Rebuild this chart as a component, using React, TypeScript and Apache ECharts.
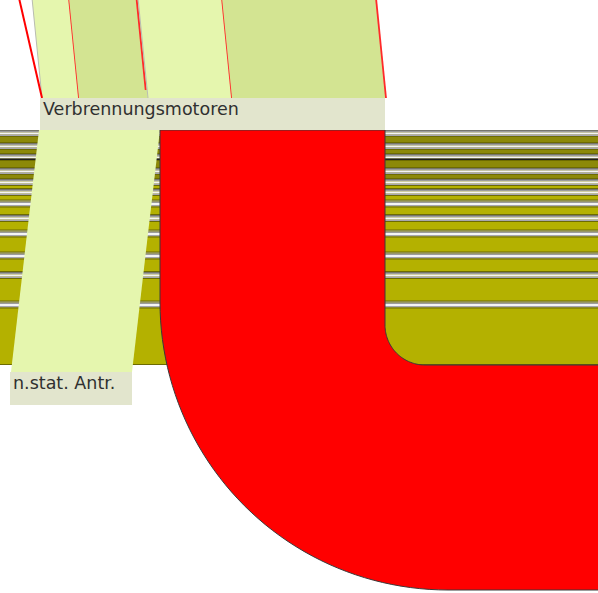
import { useEffect, useRef } from "react";
import * as echarts from "echarts";

// ---- data (flow magnitudes) ----
const nodeNames = ["Verbrennungsmotoren", "n.stat. Antr."];
const inflowValues = [37, 69, 84, 154];
const outflowNames = ["n.stat. Antr.", "Antrieb"];
const outflowValues = [121, 225];
const stripeValues = [13, 11, 14, 11, 10, 11.5, 14.5, 15.5, 22, 19.5, 29.5, 63.5];

// ---- layout constants ----
const W = 598;
const H = 593;
const NODE_X = 39;
const NODE_TOP = 98;
const NODE_BOTTOM = 130;
const INFLOW_X0 = 42;
const INFLOW_SLANT = -10;
const STRIPE_TOP = 130;
const TARGET_TOP = 372;
const TARGET_SHIFT = -28;
const BEND_OUTER = 288;
const BEND_INNER = 40;

const LIGHT = "#e5f6ae";
const DARKLINK = "#d3e492";
const OLIVE = "#b4b100";
const OLIVE_DARK = "#8c8908";
const BOX = "#e2e5cd";
const RED = "#ff0000";

export default function App() {
  const ref = useRef<HTMLDivElement>(null);
  useEffect(() => {
    const chart = echarts.init(ref.current!, null, { renderer: "svg" });

    const stripeTops: number[] = [];
    let acc = STRIPE_TOP;
    stripeValues.forEach((v) => {
      stripeTops.push(acc);
      acc += v;
    });
    const stripeBottom = acc;

    const inflowStarts: number[] = [];
    let ix = INFLOW_X0;
    inflowValues.forEach((v) => {
      inflowStarts.push(ix);
      ix += v;
    });

    const outStarts: number[] = [];
    let ox = NODE_X;
    outflowValues.forEach((v) => {
      outStarts.push(ox);
      ox += v;
    });
    const nodeRight = ox;

    const stripeRender = (_p: any, api: any) => {
      const i = api.value(0) as number;
      const v = api.value(1) as number;
      const y0 = stripeTops[i];
      const y1 = y0 + v;
      const rect = (ya: number, yb: number, fill: string) => {
        const a = api.coord([0, ya]);
        const b = api.coord([W, yb]);
        return {
          type: "rect",
          shape: { x: a[0], y: a[1], width: b[0] - a[0], height: b[1] - a[1] },
          style: { fill },
        };
      };
      return {
        type: "group",
        children: [
          rect(y0, y1, i < 4 ? OLIVE_DARK : OLIVE),
          rect(y0, y0 + 1, "#76766a"),
          rect(y0 + 1, y0 + 2.5, "#9c9c9c"),
          rect(y0 + 2.5, y0 + 4.5, "#f4f4f4"),
          rect(y0 + 4.5, y0 + 6, i === 2 ? "#202020" : "#a6a6b0"),
          rect(y0 + 6, y0 + 7, "#6d6b00"),
          rect(y1 - 1, y1, "#6d6b00"),
        ],
      };
    };

    const outflowRender = (_p: any, api: any) => {
      const i = api.value(0) as number;
      const v = api.value(1) as number;
      const L = outStarts[i];
      const R = L + v;
      const P = (x: number, y: number) => api.coord([x, y]);
      if (i === 0) {
        const pts = [
          P(L, NODE_BOTTOM),
          P(R, NODE_BOTTOM),
          P(R + TARGET_SHIFT, TARGET_TOP),
          P(L + TARGET_SHIFT, TARGET_TOP),
        ];
        return { type: "polygon", shape: { points: pts }, style: { fill: LIGHT } };
      }
      // bend: vertical down, then turning right
      const hTop = stripeBottom;
      const hBottom = hTop + v;
      const rOut = BEND_OUTER;
      const cxo = L + rOut;
      const cyo = hBottom - rOut;
      const rIn = BEND_INNER;
      const cxi = R + rIn;
      const cyi = hTop - rIn;
      const pts: number[][] = [];
      pts.push(P(L, NODE_BOTTOM));
      const n = 48;
      for (let k = 0; k <= n; k++) {
        const a = (Math.PI / 2) * (k / n);
        pts.push(P(cxo - rOut * Math.cos(a), cyo + rOut * Math.sin(a)));
      }
      pts.push(P(W + 5, hBottom));
      pts.push(P(W + 5, hTop));
      for (let k = n; k >= 0; k--) {
        const a = (Math.PI / 2) * (k / n);
        pts.push(P(cxi - rIn * Math.cos(a), cyi + rIn * Math.sin(a)));
      }
      pts.push(P(R, NODE_BOTTOM));
      return {
        type: "polygon",
        shape: { points: pts },
        style: { fill: RED, stroke: "#3a3a3a", lineWidth: 1 },
      };
    };

    const inflowRender = (_p: any, api: any) => {
      const i = api.value(0) as number;
      const v = api.value(1) as number;
      const L = inflowStarts[i];
      const R = L + v;
      const P = (x: number, y: number) => api.coord([x, y]);
      const yTop = -2;
      const children: any[] = [
        {
          type: "polygon",
          shape: { points: [P(L + INFLOW_SLANT, yTop), P(R + INFLOW_SLANT, yTop), P(R, NODE_TOP), P(L, NODE_TOP)] },
          style: { fill: i % 2 === 0 ? LIGHT : DARKLINK },
        },
      ];
      const line = (x1: number, y1: number, x2: number, y2: number, stroke: string, w: number) => {
        const a = P(x1, y1);
        const b = P(x2, y2);
        return { type: "line", shape: { x1: a[0], y1: a[1], x2: b[0], y2: b[1] }, style: { stroke, lineWidth: w } };
      };
      if (i === 0 || i === 2) {
        children.push(line(L + INFLOW_SLANT, yTop, L, NODE_TOP, "#b8bcb0", 1));
      }
      if (i === 0) {
        children.push(line(L - 23, yTop, L, NODE_TOP, RED, 2));
      }
      const endY = i === 1 ? NODE_TOP - 8 : NODE_TOP;
      const dx = i === 1 ? -1.5 : 0;
      children.push(
        line(R + INFLOW_SLANT + dx, yTop, R + dx + (INFLOW_SLANT * (NODE_TOP - endY)) / (NODE_TOP - yTop), endY, "#ff2a2a", 1.8)
      );
      return { type: "group", children };
    };

    const labelRender = (_p: any, api: any) => {
      const i = api.value(0) as number;
      const P = (x: number, y: number) => api.coord([x, y]);
      let x0: number, x1: number, y0: number, y1: number;
      if (i === 0) {
        x0 = NODE_X + 1;
        x1 = nodeRight;
        y0 = NODE_TOP;
        y1 = NODE_BOTTOM;
      } else {
        x0 = outStarts[0] + TARGET_SHIFT - 1;
        x1 = outStarts[0] + outflowValues[0] + TARGET_SHIFT;
        y0 = TARGET_TOP;
        y1 = 405;
      }
      const a = P(x0, y0);
      const b = P(x1, y1);
      const t = P(x0 + 3, y0 + 11);
      return {
        type: "group",
        children: [
          { type: "rect", shape: { x: a[0], y: a[1], width: b[0] - a[0], height: b[1] - a[1] }, style: { fill: BOX } },
          {
            type: "text",
            x: t[0],
            y: t[1],
            style: {
              text: nodeNames[i],
              fill: "#303030",
              font: '17.5px "DejaVu Sans"',
              align: "left",
              verticalAlign: "middle",
            },
          },
        ],
      };
    };

    chart.setOption({
      animation: false,
      backgroundColor: "#ffffff",
      grid: { left: 0, right: 0, top: 0, bottom: 0 },
      xAxis: { type: "value", min: 0, max: W, show: false },
      yAxis: { type: "value", min: 0, max: H, inverse: true, show: false },
      series: [
        {
          type: "custom",
          name: "stripes",
          renderItem: stripeRender,
          data: stripeValues.map((v, i) => [i, v]),
          z: 1,
        },
        {
          type: "custom",
          name: "outflows",
          renderItem: outflowRender,
          data: outflowValues.map((v, i) => ({ name: outflowNames[i], value: [i, v] })),
          z: 2,
        },
        {
          type: "custom",
          name: "inflows",
          renderItem: inflowRender,
          data: inflowValues.map((v, i) => [i, v]),
          z: 3,
        },
        {
          type: "custom",
          name: "nodes",
          renderItem: labelRender,
          data: nodeNames.map((_n, i) => [i, 0]),
          z: 4,
        },
      ],
    });
    return () => chart.dispose();
  }, []);
  return <div ref={ref} style={{ position: "absolute", left: 0, top: 0, width: W, height: H }} />;
}
